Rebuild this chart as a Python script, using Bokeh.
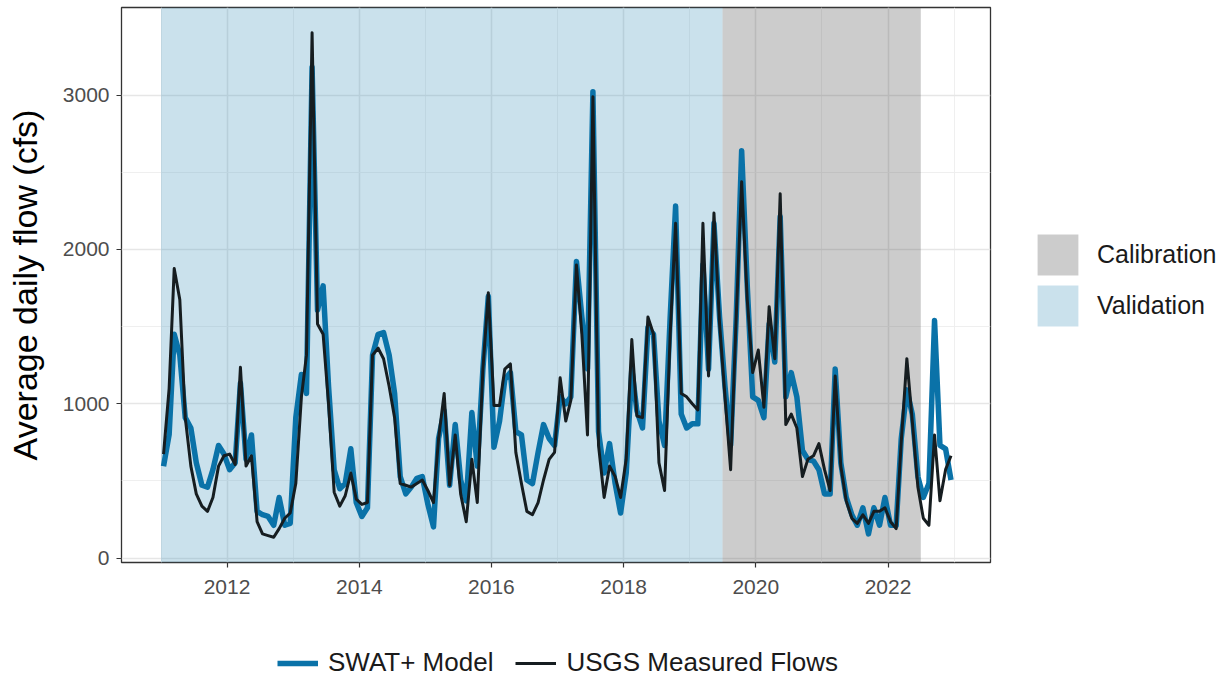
import numpy as np
import pandas as pd
from bokeh.plotting import figure
from bokeh.layouts import column, row
from bokeh.models import (Range1d, FixedTicker, DatetimeTickFormatter, BoxAnnotation,
                          Legend, LegendItem, ColumnDataSource)
from bokeh.embed import file_html
from bokeh.resources import INLINE

# ---------------- data ----------------
months = pd.date_range("2011-01-01", periods=144, freq="MS") + pd.Timedelta(days=14)

swat_model = [
    595, 800, 1450, 1315, 910, 843, 618, 472, 460, 573, 730, 674,
    573, 618, 1135, 640, 798, 303, 281, 270, 213, 393, 213, 225,
    910, 1190, 1067, 3180, 1607, 1764, 1112, 573, 449, 483, 708, 360,
    270, 326, 1315, 1450, 1461, 1315, 1067, 528, 416, 460, 517, 528,
    348, 202, 775, 955, 472, 865, 506, 371, 944, 596, 1225, 1697,
    719, 888, 1157, 1202, 820, 798, 506, 483, 685, 865, 775, 730,
    1045, 1000, 1045, 1921, 1562, 1225, 3022, 820, 551, 742, 483, 292,
    551, 1225, 955, 843, 1494, 1450, 888, 730, 1562, 2281, 933, 843,
    870, 870, 1900, 1225, 2169, 1562, 1112, 730, 1562, 2640, 1764, 1045,
    1022, 910, 1517, 1270, 2213, 1045, 1202, 1045, 697, 640, 629, 573,
    416, 416, 1225, 618, 393, 281, 213, 326, 157, 326, 213, 393,
    213, 213, 775, 1090, 933, 528, 393, 483, 1539, 730, 708, 506,
]

usgs_measured = [
    674, 1100, 1876, 1674, 910, 596, 416, 337, 303, 393, 596, 663,
    674, 607, 1236, 596, 663, 236, 157, 146, 135, 191, 258, 292,
    483, 1045, 1315, 3404, 1517, 1450, 1000, 427, 337, 404, 551, 382,
    348, 360, 1315, 1360, 1292, 1112, 910, 483, 472, 460, 483, 506,
    438, 360, 775, 1067, 472, 798, 416, 236, 640, 360, 1225, 1719,
    989, 989, 1225, 1258, 685, 483, 303, 281, 360, 506, 640, 685,
    1168, 888, 1022, 1899, 1450, 798, 2989, 730, 393, 596, 528, 393,
    640, 1416, 921, 910, 1562, 1450, 618, 438, 1450, 2169, 1067, 1045,
    1000, 960, 2170, 1180, 2236, 1517, 1045, 573, 1562, 2438, 1674, 1202,
    1348, 978, 1629, 1292, 2360, 865, 933, 843, 528, 640, 663, 742,
    573, 438, 1180, 596, 371, 258, 225, 281, 225, 303, 303, 326,
    236, 191, 753, 1292, 888, 460, 258, 213, 798, 371, 573, 663,
]

period_names = ["Calibration", "Validation"]
period_start = ["2019-07-01", "2011-01-01"]
period_end = ["2022-07-01", "2019-07-01"]
period_colors = ["#555555", "#4E9BC0"]

major_years = [2012, 2014, 2016, 2018, 2020, 2022]
minor_years = [2011, 2013, 2015, 2017, 2019, 2021, 2023]
y_major = [0, 1000, 2000, 3000]
y_minor = [500, 1500, 2500]

series_names = ["SWAT+ Model", "USGS Measured Flows"]
series_values = [swat_model, usgs_measured]
series_colors = ["#0A72A8", "#161D20"]
series_widths = [5.5, 3]

FONT = "Liberation Sans"


def ms(d):
    return pd.Timestamp(d).value / 1e6


# ranges with ggplot-like 5% expansion
all_vals = swat_model + usgs_measured
vmin, vmax = min(all_vals), max(all_vals)
yspan = vmax - vmin
y_lo, y_hi = vmin - 0.05 * yspan, vmax + 0.05 * yspan

x_first = min(ms(period_start[1]), ms(months[0]))
x_last = ms(months[-1])
xspan = x_last - x_first
x_lo, x_hi = x_first - 0.05 * xspan, x_last + 0.05 * xspan

MAIN_W, MAIN_H = 992, 604
RIGHT_W = 230
BOTTOM_H = 76

# ---------------- main panel ----------------
p = figure(width=MAIN_W, height=MAIN_H, x_axis_type="datetime",
           x_range=Range1d(x_lo, x_hi), y_range=Range1d(y_lo, y_hi),
           output_backend="svg", toolbar_location=None,
           min_border_left=121, min_border_right=2,
           min_border_top=7, min_border_bottom=42)

p.background_fill_color = "white"
p.border_fill_color = "white"
p.outline_line_color = "#333333"
p.outline_line_width = 1.3

p.xaxis.ticker = FixedTicker(ticks=[ms(f"{y}-01-01") for y in major_years],
                             minor_ticks=[ms(f"{y}-01-01") for y in minor_years])
p.yaxis.ticker = FixedTicker(ticks=y_major, minor_ticks=y_minor)
for g in (p.xgrid, p.ygrid):
    g.grid_line_color = "#E6E6E6"
    g.grid_line_width = 1.6
    g.minor_grid_line_color = "#EDEDED"
    g.minor_grid_line_width = 0.9

p.xaxis.formatter = DatetimeTickFormatter(years="%Y", months="%Y", days="%Y",
                                          hours="%Y", minutes="%Y", seconds="%Y",
                                          milliseconds="%Y", microseconds="%Y")

for ax in (p.xaxis, p.yaxis):
    ax.axis_line_color = None
    ax.major_tick_line_color = "#333333"
    ax.major_tick_line_width = 1.2
    ax.major_tick_out = 5
    ax.major_tick_in = 0
    ax.minor_tick_line_color = None
    ax.major_label_text_font = FONT
    ax.major_label_text_font_size = "21px"
    ax.major_label_text_color = "#4D4D4D"
p.xaxis.major_label_standoff = 12
p.yaxis.major_label_standoff = 7

p.yaxis.axis_label = "Average daily flow (cfs)"
p.yaxis.axis_label_text_font = FONT
p.yaxis.axis_label_text_font_size = "34px"
p.yaxis.axis_label_text_font_style = "normal"
p.yaxis.axis_label_text_color = "black"
p.yaxis.axis_label_standoff = 16

for s, e, c in zip(period_start, period_end, period_colors):
    p.add_layout(BoxAnnotation(left=ms(s), right=ms(e), fill_color=c, fill_alpha=0.3,
                               line_color=None, level="underlay"))

for vals, c, w in zip(series_values, series_colors, series_widths):
    src = ColumnDataSource(dict(x=months, y=vals))
    p.line("x", "y", source=src, line_color=c, line_width=w, line_join="round")


def legend_canvas(w, h):
    f = figure(width=w, height=h, x_range=Range1d(0, 1), y_range=Range1d(0, 1),
               output_backend="svg", toolbar_location=None,
               x_axis_location=None, y_axis_location=None,
               min_border=0, outline_line_color=None)
    f.grid.visible = False
    return f


# ---------------- right legend (fill keys) ----------------
pr = legend_canvas(RIGHT_W, MAIN_H)
band_keys = []
for s, e, c in zip(period_start, period_end, period_colors):
    # same period data as the shading; it falls outside this key canvas' range
    r = pr.quad(left=[ms(s)], right=[ms(e)], bottom=[y_lo], top=[y_hi],
                fill_color=c, fill_alpha=0.3, line_color=None)
    band_keys.append(r)
leg_right = Legend(items=[LegendItem(label=n, renderers=[r]) for n, r in zip(period_names, band_keys)],
                   location=(40, 231), orientation="vertical",
                   glyph_width=51, glyph_height=51, spacing=-5, label_standoff=14,
                   padding=0, margin=0, border_line_color=None, background_fill_alpha=0,
                   label_text_font=FONT, label_text_font_size="25px", label_text_color="#1A1A1A")
pr.add_layout(leg_right)

# ---------------- bottom legend (line keys) ----------------
pb = legend_canvas(MAIN_W + RIGHT_W, BOTTOM_H)
line_keys = []
for vals, c, w in zip(series_values, series_colors, series_widths):
    r = pb.line(list(months), vals, line_color=c, line_width=w)
    line_keys.append(r)
leg_bottom = Legend(items=[LegendItem(label=n, renderers=[r]) for n, r in zip(series_names, line_keys)],
                    location=(277, 2), orientation="horizontal",
                    glyph_width=41, glyph_height=30, spacing=22, label_standoff=10,
                    padding=0, margin=0, border_line_color=None, background_fill_alpha=0,
                    label_text_font=FONT, label_text_font_size="26px", label_text_color="#1A1A1A")
pb.add_layout(leg_bottom)

layout = column(row(p, pr, spacing=0), pb, spacing=0)

open("out.html", "w").write(file_html(layout, INLINE))
